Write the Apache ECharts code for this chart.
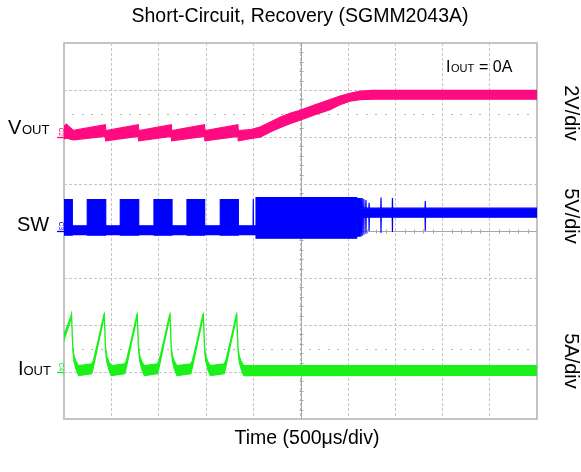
<!DOCTYPE html>
<html><head><meta charset="utf-8">
<script src="https://cdn.jsdelivr.net/npm/echarts@6.0.0/dist/echarts.min.js"></script>
<style>html,body{margin:0;padding:0;background:#fff;}#chart{width:581px;height:472px;}</style>
</head><body><div id="chart"></div>
<script>
// Time axis in microseconds (500 us/div, 10 divisions)
// Each trace is stored as a peak-detect envelope (high / low) in physical units.

// VOUT (V), 2 V/div
const vTime = [0, 25, 60, 100, 436, 441, 785, 790, 1134, 1138, 1484, 1490, 1838, 1843, 1966, 2072, 2209, 2283, 2389, 2495, 2653, 2812, 2918, 3023, 3129, 3266, 5000];
const vHigh = [0.45, 0.55, 0.42, 0.28, 0.52, 0.27, 0.52, 0.27, 0.52, 0.27, 0.52, 0.27, 0.52, 0.27, 0.31, 0.42, 0.69, 0.84, 1.01, 1.14, 1.37, 1.59, 1.74, 1.86, 1.95, 1.98, 1.98];
const vLow  = [-0.08, -0.05, -0.08, -0.12, 0.03, -0.16, 0.03, -0.16, 0.03, -0.16, 0.03, -0.16, 0.03, -0.16, -0.07, -0.01, 0.27, 0.40, 0.57, 0.72, 0.95, 1.16, 1.37, 1.52, 1.59, 1.61, 1.61];

// SW (V), 5 V/div
const swTime = [0, 88, 88, 246, 246, 441, 441, 595, 595, 790, 790, 951, 951, 1142, 1142, 1300, 1300, 1487, 1487, 1652, 1652, 1843, 1843, 1999, 2001, 2003, 2030, 2030, 3094, 3096, 3100, 3104, 3110, 3112, 3114, 3122, 3124, 3126, 3136, 3138, 3140, 3150, 3152, 3154, 3168, 3170, 3172, 3190, 3192, 3194, 3223, 3225, 3227, 3349, 3351, 3353, 3470, 3472, 3474, 3817, 3819, 3821, 5000];
const swHigh = [3.33, 3.33, 0.56, 0.56, 3.33, 3.33, 0.56, 0.56, 3.33, 3.33, 0.56, 0.56, 3.33, 3.33, 0.56, 0.56, 3.33, 3.33, 0.56, 0.56, 3.33, 3.33, 0.56, 0.56, 3.4, 0.56, 0.56, 3.54, 3.54, 2.43, 3.5, 2.43, 2.43, 3.5, 2.43, 2.43, 3.5, 2.43, 2.43, 3.5, 2.43, 2.43, 3.5, 2.43, 2.43, 3.4, 2.43, 2.43, 3.3, 2.43, 2.43, 3.0, 2.43, 2.43, 3.55, 2.43, 2.43, 3.5, 2.43, 2.43, 3.2, 2.43, 2.43];
const swLow  = [-0.45, -0.45, -0.39, -0.39, -0.45, -0.45, -0.39, -0.39, -0.45, -0.45, -0.39, -0.39, -0.45, -0.45, -0.39, -0.39, -0.45, -0.45, -0.39, -0.39, -0.45, -0.45, -0.39, -0.39, -0.39, -0.39, -0.39, -0.77, -0.77, 1.47, -0.6, 1.47, 1.47, -0.6, 1.47, 1.47, -0.6, 1.47, 1.47, -0.6, 1.47, 1.47, -0.5, 1.47, 1.47, -0.4, 1.47, 1.47, -0.3, 1.47, 1.47, 0.0, 1.47, 1.47, -0.2, 1.47, 1.47, -0.1, 1.47, 1.47, 0.0, 1.47, 1.47];

// IOUT (A), 5 A/div
const iTime = [0, 40, 75, 80, 88, 94, 106, 128, 154, 293, 310, 363, 405, 421, 426, 434, 440, 452, 474, 500, 642, 659, 712, 754, 770, 775, 783, 789, 801, 823, 849, 988, 1005, 1058, 1100, 1116, 1121, 1129, 1135, 1147, 1169, 1195, 1340, 1357, 1410, 1452, 1468, 1473, 1481, 1487, 1499, 1521, 1547, 1693, 1710, 1763, 1805, 1821, 1826, 1834, 1840, 1852, 1874, 1900, 5000];
const iHigh = [4.0, 5.0, 6.0, 6.2, 4.0, 2.6, 1.7, 1.1, 0.67, 0.88, 1.2, 3.44, 5.35, 6.1, 6.2, 4.0, 2.6, 1.7, 1.1, 0.67, 0.88, 1.2, 3.44, 5.35, 6.1, 6.2, 4.0, 2.6, 1.7, 1.1, 0.67, 0.88, 1.2, 3.44, 5.35, 6.1, 6.2, 4.0, 2.6, 1.7, 1.1, 0.67, 0.88, 1.2, 3.44, 5.35, 6.1, 6.2, 4.0, 2.6, 1.7, 1.1, 0.67, 0.88, 1.2, 3.44, 5.35, 6.1, 6.2, 4.0, 2.6, 1.7, 1.1, 0.67, 0.67];
const iLow  = [3.4, 4.6, 5.7, 5.9, 3.6, 2.2, 1.1, 0.25, -0.39, -0.18, 0.46, 3.01, 4.93, 5.8, 5.9, 3.6, 2.2, 1.1, 0.25, -0.39, -0.18, 0.46, 3.01, 4.93, 5.8, 5.9, 3.6, 2.2, 1.1, 0.25, -0.39, -0.18, 0.46, 3.01, 4.93, 5.8, 5.9, 3.6, 2.2, 1.1, 0.25, -0.39, -0.18, 0.46, 3.01, 4.93, 5.8, 5.9, 3.6, 2.2, 1.1, 0.25, -0.39, -0.18, 0.46, 3.01, 4.93, 5.8, 5.9, 3.6, 2.2, 1.1, 0.25, -0.39, -0.36];

// Channel ground reference (in divisions from the bottom) and scale (units/div)
const channels = [
  {key: 'VOUT', time: vTime, high: vHigh, low: vLow, ref: 6, scale: 2, color: '#ff0a80', tag: 'C2'},
  {key: 'SW',   time: swTime, high: swHigh, low: swLow, ref: 4, scale: 5, color: '#0000ff', tag: 'C3'},
  {key: 'IOUT', time: iTime, high: iHigh, low: iLow, ref: 1, scale: 5, color: '#1bf01b', tag: 'C4'}
];

const FONT = '"Liberation Sans", Arial, sans-serif';
const chart = echarts.init(document.getElementById('chart'), null, {renderer: 'canvas'});

function envelopeSeries(ch, z) {
  return {
    type: 'custom', name: ch.key, coordinateSystem: 'cartesian2d', clip: true, z: z,
    silent: true, animation: false,
    data: [[ch.time[0], ch.ref]],
    encode: {x: 0, y: 1},
    renderItem: function (params, api) {
      const pts = [];
      for (let i = 0; i < ch.time.length; i++) pts.push(api.coord([ch.time[i], ch.ref + ch.high[i] / ch.scale]));
      for (let i = ch.time.length - 1; i >= 0; i--) pts.push(api.coord([ch.time[i], ch.ref + ch.low[i] / ch.scale]));
      return {type: 'polygon', shape: {points: pts}, style: {fill: ch.color, stroke: ch.color, lineWidth: 1.2}};
    }
  };
}

const graticule = {
  type: 'custom', coordinateSystem: 'cartesian2d', z: 1, silent: true, animation: false,
  data: [[0, 0]], encode: {x: 0, y: 1},
  renderItem: function (params, api) {
    const children = [];
    const c = api.coord([2500, 4]);
    const tl = api.coord([0, 8]);
    const br = api.coord([5000, 0]);
    const cx = Math.round(c[0]) + 0.5, cy = Math.round(c[1]) + 0.5;
    const ls = {stroke: '#a8a8a8', lineWidth: 1};
    children.push({type: 'line', shape: {x1: tl[0], y1: cy, x2: br[0], y2: cy}, style: ls});
    children.push({type: 'line', shape: {x1: cx, y1: tl[1], x2: cx, y2: br[1]}, style: ls});
    for (let k = 1; k < 50; k++) {
      if (k % 5 === 0) continue;
      const p = api.coord([k * 100, 4]);
      const x = Math.round(p[0]) + 0.5;
      children.push({type: 'line', shape: {x1: x, y1: cy - 2, x2: x, y2: cy + 2}, style: ls});
    }
    for (let k = 1; k < 40; k++) {
      if (k % 5 === 0) continue;
      const p = api.coord([2500, k * 0.2]);
      const y = Math.round(p[1]) + 0.5;
      children.push({type: 'line', shape: {x1: cx - 2, y1: y, x2: cx + 2, y2: y}, style: ls});
    }
    [6.5, 1.5].forEach(function (lv) {
      for (let k = 1; k < 50; k++) {
        if (k % 5 === 0) continue;
        const p = api.coord([k * 100, lv]);
        children.push({type: 'rect', shape: {x: Math.round(p[0]) - 1, y: Math.round(p[1]), width: 2, height: 1}, style: {fill: '#b4b4b4'}});
      }
    });
    return {type: 'group', children: children};
  }
};

function text(x, y, str, size, opts) {
  opts = opts || {};
  return {
    type: 'text', x: x, y: y, rotation: opts.rotation || 0, silent: true, z: 10,
    style: {
      text: str, fill: opts.color || '#000', font: size + 'px ' + FONT,
      align: opts.align || 'left', textAlign: opts.align || 'left',
      verticalAlign: 'middle', textVerticalAlign: 'middle'
    }
  };
}
// baseline -> middle offset for Arial-metric fonts
function mid(baseline, size) { return baseline - 0.3465 * size; }

const graphics = [
  text(300, 17, 'Short-Circuit, Recovery (SGMM2043A)', 19.5, {align: 'center'}),
  text(307, 439, 'Time (500\u03bcs/div)', 19.5, {align: 'center'}),
  // left channel names
  text(8, mid(135, 20), 'V', 20),
  text(22, mid(135, 13), 'OUT', 13),
  text(17, mid(232, 20), 'SW', 20),
  text(18, mid(376, 20), 'I', 20),
  text(23.5, mid(376, 13), 'OUT', 13),
  // right scale labels
  text(571, 113, '2V/div', 20, {align: 'center', rotation: -Math.PI / 2}),
  text(571, 216, '5V/div', 20, {align: 'center', rotation: -Math.PI / 2}),
  text(571, 361, '5A/div', 20, {align: 'center', rotation: -Math.PI / 2}),
  // annotation
  text(446, mid(73, 16), 'I', 16),
  text(451, mid(73, 11), 'OUT', 11),
  text(474.5, mid(73, 16), ' = 0A', 16)
];

const option = {
  animation: false,
  backgroundColor: '#fff',
  grid: {left: 64, top: 43, width: 473, height: 376, show: true, borderColor: '#b0b0b0', borderWidth: 1.5, containLabel: false},
  xAxis: {
    type: 'value', min: 0, max: 5000, interval: 500,
    axisLine: {show: false}, axisTick: {show: false}, axisLabel: {show: false},
    splitLine: {show: true, lineStyle: {color: '#c4c4c4', type: [3, 2], width: 1}}
  },
  yAxis: {
    type: 'value', min: 0, max: 8, interval: 1,
    axisLine: {show: false}, axisTick: {show: false}, axisLabel: {show: false},
    splitLine: {show: true, lineStyle: {color: '#c4c4c4', type: [3, 2], width: 1}}
  },
  series: [graticule].concat(channels.map(function (ch, i) { return envelopeSeries(ch, 5 + i); })),
  graphic: graphics
};
chart.setOption(option);

// channel ground markers (C2 / C3 / C4) at the left edge
const markers = [];
channels.forEach(function (ch) {
  const p = chart.convertToPixel({gridIndex: 0}, [0, ch.ref]);
  const y = Math.round(p[1]) + 0.5;
  markers.push({type: 'line', silent: true, z: 10, shape: {x1: 57, y1: y, x2: 64, y2: y}, style: {stroke: ch.color, lineWidth: 1.3}});
  markers.push(text(60.5, y - 5.5, ch.tag, 6.5, {align: 'center', rotation: -Math.PI / 2, color: ch.color}));
});
chart.setOption({graphic: graphics.concat(markers)});
</script>
</body></html>
